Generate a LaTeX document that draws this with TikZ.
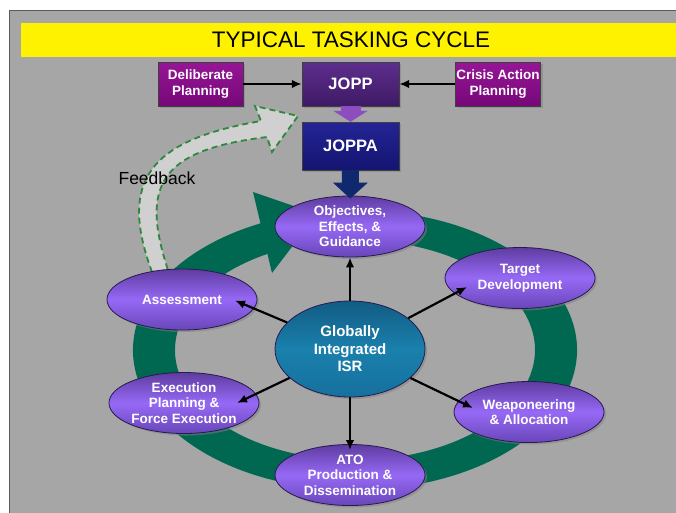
\documentclass[tikz,border=0pt]{standalone}
\usepackage{fontspec}
\setmainfont{Liberation Sans}
\usetikzlibrary{shapes.geometric, arrows.meta, calc, shadows}

\definecolor{bggray}{RGB}{166,166,166}
\definecolor{ringgreen}{RGB}{0,104,80}
\definecolor{fbgreen}{RGB}{45,135,60}
\definecolor{fbgray}{RGB}{208,208,208}
\definecolor{magtop}{RGB}{150,22,150}
\definecolor{magbot}{RGB}{118,8,120}
\definecolor{jopptop}{RGB}{94,46,142}
\definecolor{joppbot}{RGB}{62,26,100}
\definecolor{joppatop}{RGB}{36,36,150}
\definecolor{joppabot}{RGB}{20,20,112}
\definecolor{elltop}{RGB}{95,60,160}
\definecolor{ellmid}{RGB}{150,105,245}
\definecolor{ellbot}{RGB}{105,70,185}
\definecolor{ellline}{RGB}{40,25,80}
\definecolor{isrtop}{RGB}{18,92,132}
\definecolor{isrmid}{RGB}{26,128,172}
\definecolor{isrbot}{RGB}{22,112,158}
\definecolor{purplearrow}{RGB}{140,78,190}
\definecolor{navyarrow}{RGB}{16,40,110}

\begin{document}
\begin{tikzpicture}[x=1pt, y=1pt]

\tikzstyle{box}=[draw=black!75, minimum width=85pt, minimum height=44pt, inner sep=0pt, align=center, text=white, font=\fontsize{13.5}{16}\selectfont\bfseries, drop shadow={shadow xshift=2pt, shadow yshift=-2pt, opacity=0.5}];
\tikzstyle{phase}=[ellipse, draw=ellline, line width=0.8pt, minimum width=150pt, minimum height=61pt, inner sep=0pt, align=center, text=white, font=\fontsize{13.5}{15.5}\selectfont\bfseries, top color=elltop, bottom color=ellbot, middle color=ellmid, drop shadow={shadow xshift=2pt, shadow yshift=-2pt, opacity=0.5}];
\tikzstyle{hub}=[phase, minimum height=96pt, top color=isrtop, bottom color=isrbot, middle color=isrmid, font=\fontsize{15}{17.5}\selectfont\bfseries];
\tikzstyle{link}=[-{Latex[length=10pt, width=8.5pt]}, line width=2.2pt];

\useasboundingbox (0,0) rectangle (676,-512);
\fill[white] (0,0) rectangle (676,-512);
\filldraw[fill=bggray, draw=black!65] (9,-10) rectangle (690,-520);

\node[fill=yellow, minimum width=660pt, minimum height=34pt, inner sep=0pt, font=\fontsize{22.5}{27}\selectfont] (title) at (351,-40) {TYPICAL TASKING CYCLE};

% cycle ring
\coordinate (ringc) at (355,-350);
\fill[ringgreen] ([shift={(75:222 and 140)}]ringc) arc[start angle=75, end angle=-244.8, x radius=222, y radius=140] -- (253,-192) -- (317,-214) -- (272,-273) -- ([shift={(-240.9:180 and 110)}]ringc) arc[start angle=-240.9, end angle=75, x radius=180, y radius=110] -- cycle;

% feedback
\filldraw[fill=fbgray, draw=fbgreen, line width=1.8pt, dash pattern=on 6pt off 4pt] (152,-272) .. controls (118,-180) and (150,-140) .. (261,-121) -- (255,-106) -- (298,-116) -- (272,-152) -- (267,-137) .. controls (160,-150) and (140,-185) .. (168,-270) -- cycle;
\node[font=\fontsize{17.5}{20}\selectfont] (fb) at (157,-178) {Feedback};

\node[box, top color=magtop, bottom color=magbot] (delib) at (200.5,-84) {Deliberate\\Planning};
\node[box, minimum width=97pt, top color=jopptop, bottom color=joppbot, font=\fontsize{16.5}{19}\selectfont\bfseries] (jopp) at (350.5,-84) {JOPP};
\node[box, top color=magtop, bottom color=magbot] (crisis) at (498,-84) {Crisis Action\\Planning};
\node[box, minimum width=97pt, minimum height=48pt, top color=joppatop, bottom color=joppabot, font=\fontsize{16.5}{19}\selectfont\bfseries] (joppa) at (350.5,-146) {JOPPA};

\draw[link] (delib) -- (jopp);
\draw[link] (crisis) -- (jopp);
\draw[purplearrow, line width=20pt, -{Triangle[length=11pt, width=34pt]}] (jopp) -- (joppa);

\node[phase] (obj) at (350,-226.5) {Objectives,\\Effects, \&\\Guidance};
\node[phase] (assess) at (182,-299.5) {Assessment};
\node[phase] (target) at (520,-278) {Target\\Development};
\node[phase] (weap) at (529,-412) {Weaponeering\\\& Allocation};
\node[phase] (exec) at (184,-403) {Execution\\Planning \&\\Force Execution};
\node[phase] (ato) at (350,-475) {ATO\\Production \&\\Dissemination};
\node[hub] (isr) at (350,-349) {Globally\\Integrated\\ISR};

\draw[navyarrow, line width=17pt, -{Triangle[length=16pt, width=34pt]}, shorten >=-3pt] (joppa) -- (obj);

\draw[link] (isr) -- (obj);
\draw[link] (isr) -- ($(assess.center)+(53,-1)$);
\draw[link] (isr) -- ($(target.center)+(-53,-9)$);
\draw[link] (isr) -- ($(exec.center)+(53,0)$);
\draw[link] (isr) -- ($(weap.center)+(-56,4)$);
\draw[link] (isr) -- ($(ato.center)+(0,25)$);
\end{tikzpicture}
\end{document}
